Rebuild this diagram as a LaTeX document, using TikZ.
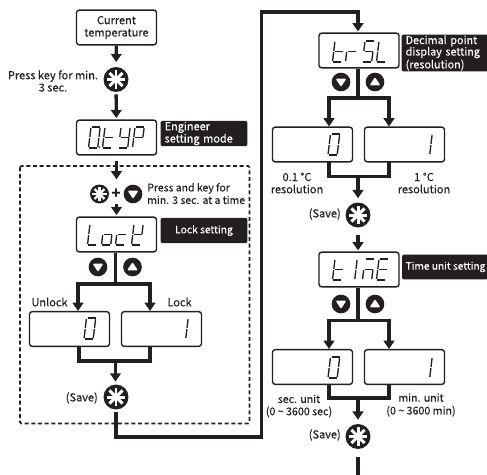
\documentclass[tikz,border=0pt]{standalone}
\usepackage{fontspec}
\setmainfont{Noto Sans CJK KR}[RawFeature={embolden=0.25}]
\usetikzlibrary{arrows.meta}
\definecolor{ink}{HTML}{231F20}
\def\sega{(1,0) -- (9,0)}
\def\segb{(9.2,1) -- (9.2,9.8)}
\def\segc{(9.2,11.2) -- (9.2,20)}
\def\segd{(1,21) -- (9,21)}
\def\sege{(0,11.2) -- (0,20)}
\def\segf{(0,1) -- (0,9.8)}
\def\segg{(1,10.5) -- (9,10.5)}
\def\segp{(10.8,19.6) -- (10.8,21)}
\newcommand{\lcdchar}[3]{\foreach \s in {#3} {\draw[shift={(#1,#2)},lcd] \csname seg\s\endcsname;}}
\tikzset{
  display/.style={draw=ink,line width=1.05pt,rounded corners=2pt,inner sep=0pt,
    minimum width=60pt,minimum height=26pt},
  tag/.style={fill=ink,text=white,rounded corners=1pt,inner sep=0pt,minimum width=65pt,
    font=\fontsize{7.7}{9.2}\selectfont},
  tagleft/.style={tag,align=left,text width=59pt,inner xsep=3pt},
  note/.style={text=ink,inner sep=0pt},
  lcd/.style={draw=ink,line width=1pt,xslant=0.12},
  flow/.style={draw=ink,line width=2.5pt,-{Triangle[length=6.2pt,width=8pt]}},
  wire/.style={draw=ink,line width=2.5pt},
  starkey/.style={circle,fill=ink,inner sep=0pt,minimum size={#1*0.75pt},
    path picture={\foreach \a in {0,45,...,315}
      \draw[white,line width={#1*0.09pt}] (path picture bounding box.center) -- ++(\a:{#1*0.37});}},
  trikey/.style={circle,fill=ink,inner sep=0pt,minimum size=14pt,
    path picture={\filldraw[white,line width=1.2pt,line join=round]
      (path picture bounding box.center) ++(-4,{-2.6*#1}) -- ++(8,0) -- ++(-4,{6*#1}) -- cycle;}}
}
\begin{document}
\begin{tikzpicture}[x=0.75pt,y=-0.75pt,
  every node/.style={font=\fontsize{8.25}{9.2}\selectfont,align=center}]
  \useasboundingbox (0,0) rectangle (487,475);
  \draw[ink,line width=1.2pt,dash pattern=on 3pt off 2pt,rounded corners=1pt] (20,166) rectangle (249.5,423.5);

  \node[display,note,inner sep=0pt] (current) at (116.5,27.5) {Current\\temperature};
  \node[starkey=25] (keyenter) at (116,79.5) {};
  \node[note,anchor=center] (presslabel) at (53,81) {Press key for min.\\3 sec.};
  \node[display] (otyp) at (116.5,137.5) {};
  \node[tagleft,minimum height=19pt,font=\fontsize{8.2}{9.2}\selectfont] (otyptag) at (204,133.5) {Engineer\\setting mode};
  \lcdchar{91}{127}{a,b,c,d,e,f,p}
  \lcdchar{105}{127}{f,e,d,g}
  \lcdchar{121}{127}{f,b,g,c,d}
  \lcdchar{135}{127}{a,b,f,g,e}

  \node[starkey=19] (keylockstar) at (99.5,194) {};
  \node[note,font=\fontsize{11}{11}\selectfont\bfseries] (pluslabel) at (116,193.5) {+};
  \node[trikey=1] (keylockdown) at (133,194) {};
  \node[note,align=left,anchor=west,font=\fontsize{7.85}{9.4}\selectfont] (holdlabel) at (147,193.5) {Press and key for\\min. 3 sec. at a time};
  \node[display] (lock) at (116.5,234.5) {};
  \node[tag,minimum height=19pt] (locktag) at (204,230.5) {Lock setting};
  \lcdchar{90}{224}{f,e,d}
  \lcdchar{104}{224}{g,c,d,e}
  \lcdchar{118}{224}{g,e,d}
  \lcdchar{134}{224}{f,b,g,e,d}
  \node[trikey=1] (keylockb) at (98,267) {};
  \node[trikey=-1] (keylocka) at (132.5,267) {};
  \node[note] (unlocklabel) at (49.5,302) {Unlock};
  \node[note] (locklabel) at (179.5,302) {Lock};
  \node[display] (unlock) at (69.5,329) {};
  \node[display] (locked) at (161.5,329) {};
  \lcdchar{86.5}{318}{a,b,c,d,e,f}
  \lcdchar{179}{318}{b,c}
  \node[starkey=25] (keysavea) at (116,397) {};
  \node[note,anchor=east] (savea) at (98,398) {(Save)};

  \node[display] (trsl) at (359,50.5) {};
  \node[tagleft,minimum height=27.5pt,font=\fontsize{8.1}{8.6}\selectfont] (trsltag) at (445,53) {Decimal point\\display setting\\(resolution)};
  \lcdchar{335}{41}{f,e,d,g}
  \lcdchar{348}{41}{e,g}
  \lcdchar{365}{41}{a,f,g,c,d}
  \lcdchar{379}{41}{f,e,d}
  \node[trikey=1] (keytrslb) at (341,82) {};
  \node[trikey=-1] (keytrsla) at (375,82) {};
  \node[display] (trzero) at (312.5,144.5) {};
  \node[display] (trone) at (404.5,144.5) {};
  \lcdchar{330.5}{134}{a,b,c,d,e,f}
  \lcdchar{423}{134}{b,c}
  \node[note] (finelabel) at (297,183) {0.1 °C\\resolution};
  \node[note] (coarselabel) at (424,183) {1 °C\\resolution};
  \node[starkey=25] (keysaveb) at (358,215) {};
  \node[note,anchor=east] (saveb) at (341,214) {(Save)};

  \node[display] (time) at (359,269.5) {};
  \node[tag,minimum height=18.5pt,font=\fontsize{7.6}{9.2}\selectfont] (timetag) at (445.5,267) {Time unit setting};
  \lcdchar{335}{259}{f,e,d,g}
  \lcdchar{348}{259}{b,c}
  \lcdchar{365}{259}{a,g,e,c}
  \lcdchar{379}{259}{a,f,g,e,d}
  \node[trikey=1] (keytimeb) at (341,304) {};
  \node[trikey=-1] (keytimea) at (375,304) {};
  \node[display] (timezero) at (312.5,367) {};
  \node[display] (timeone) at (404.5,367) {};
  \lcdchar{330.5}{357}{a,b,c,d,e,f}
  \lcdchar{423}{357}{b,c}
  \node[note,font=\fontsize{8}{9.2}\selectfont] (seclabel) at (299,406) {sec. unit\\(0 \textasciitilde{} 3600 sec)};
  \node[note,font=\fontsize{8}{9.6}\selectfont] (minlabel) at (421,405) {min. unit\\(0 \textasciitilde{} 3600 min)};
  \node[starkey=25] (keysavec) at (358,436.5) {};
  \node[note,anchor=east] (savec) at (341,435) {(Save)};

  \draw[flow,shorten >=3.5pt] (current) -- (keyenter);
  \draw[flow,shorten <=1.5pt,shorten >=1pt] (keyenter) -- (otyp);
  \draw[flow,shorten <=4pt,shorten >=11pt] (otyp.south) -- (116.5,194);
  \draw[flow,shorten <=7.5pt,shorten >=1pt] (116.5,194) -- (lock.north);

  \coordinate (lockbus) at (115.5,284);
  \coordinate (lockmerge) at (115.5,361);
  \draw[wire] (lock.south -| lockbus) -- (lockbus);
  \draw[flow] (lockbus) -| (78,311);
  \draw[flow] (lockbus) -| (150,311);
  \draw[wire] (79,346) |- (lockmerge) -| (150,346);
  \draw[flow,shorten >=2pt] (lockmerge) -- (keysavea.north -| lockmerge);

  \coordinate (turnb) at (116,437);
  \coordinate (turnc) at (261.5,437);
  \coordinate (turnd) at (261.5,12);
  \coordinate (turne) at (358,12);
  \draw[flow,shorten <=1.5pt,shorten >=0.8pt] (keysavea) -- (turnb) -- (turnc) -- (turnd) -- (turne) -- (trsl.north -| turne);

  \coordinate (trslbus) at (358,98);
  \coordinate (trslmerge) at (358,176.5);
  \draw[wire] (trsl.south -| trslbus) -- (trslbus);
  \draw[flow] (trslbus) -| (329,126.5);
  \draw[flow] (trslbus) -| (389,126.5);
  \draw[wire] (329,162) |- (trslmerge) -| (389,162);
  \draw[flow,shorten >=3pt] (trslmerge) -- (keysaveb.north -| trslmerge);
  \draw[flow,shorten <=5.5pt,shorten >=0.8pt] (keysaveb) -- (time.north -| keysaveb);

  \coordinate (timebus) at (358,320.5);
  \coordinate (timemerge) at (358,398);
  \draw[wire] (time.south -| timebus) -- (timebus);
  \draw[flow] (timebus) -| (329,349);
  \draw[flow] (timebus) -| (389,349);
  \draw[wire] (329,384) |- (timemerge) -| (389,384);
  \draw[flow,shorten >=3pt] (timemerge) -- (keysavec.north -| timemerge);
  \coordinate (tailend) at (358,475);
  \draw[wire,shorten <=5.5pt] (keysavec) -- (tailend);
\end{tikzpicture}
\end{document}
